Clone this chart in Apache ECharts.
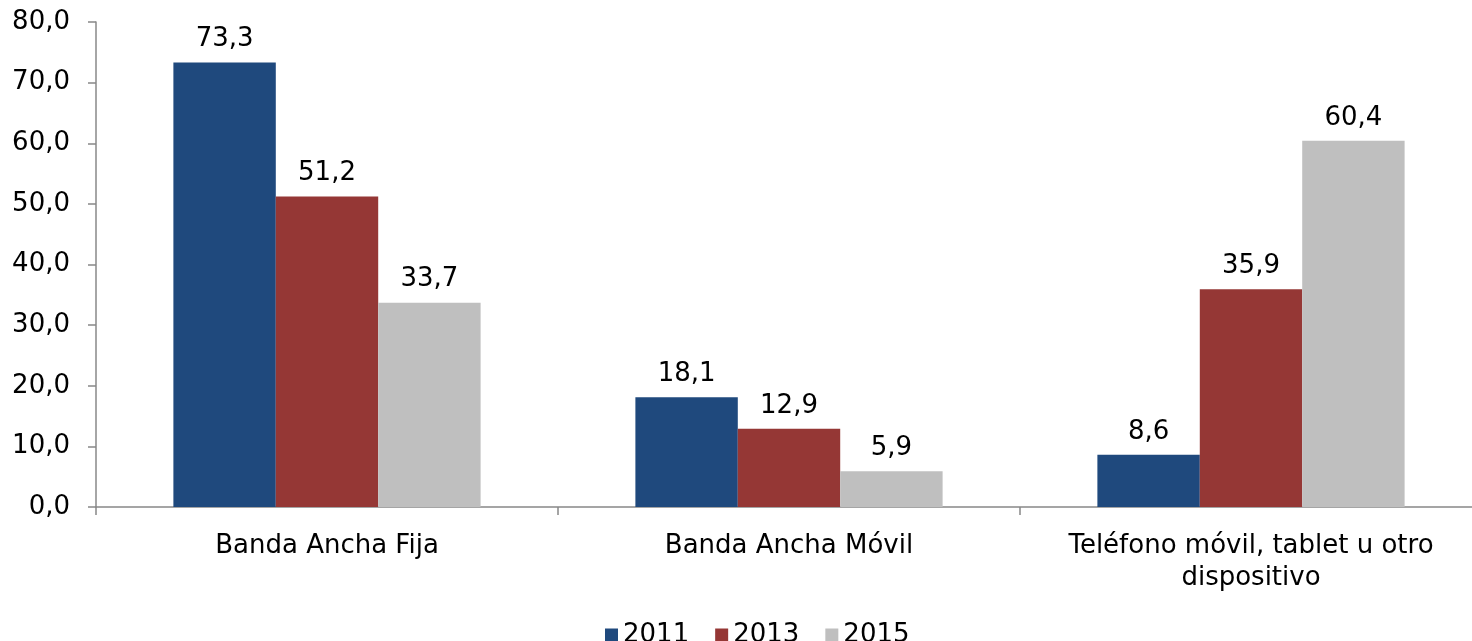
<!DOCTYPE html>
<html>
<head>
<meta charset="utf-8">
<script src="https://cdn.jsdelivr.net/npm/echarts@6/dist/echarts.min.js"></script>
<style>
  html, body { margin: 0; padding: 0; background: #fff; }
  #chart { width: 1472px; height: 641px; }
</style>
</head>
<body>
<div id="chart"></div>
<script>
var categories = ['Banda Ancha Fija', 'Banda Ancha Móvil', 'Teléfono móvil, tablet u otro\ndispositivo'];
var years = ['2011', '2013', '2015'];
var values2011 = [73.3, 18.1, 8.6];
var values2013 = [51.2, 12.9, 35.9];
var values2015 = [33.7, 5.9, 60.4];
var colors = ['#1F497D', '#953735', '#BFBFBF'];

var font = 'DejaVu Sans, Verdana, sans-serif';
var fmt = function (v) { return v.toFixed(1).replace('.', ','); };

var myChart = echarts.init(document.getElementById('chart'));

function makeSeries(name, data, color) {
  return {
    name: name,
    type: 'bar',
    data: data,
    barGap: '0%',
    barCategoryGap: '33.5%',
    itemStyle: { color: color },
    label: {
      show: true,
      position: 'top',
      distance: 10,
      color: '#000',
      fontSize: 26,
      fontFamily: font,
      formatter: function (p) { return fmt(p.value); }
    }
  };
}

var option = {
  animation: false,
  backgroundColor: '#fff',
  // plot area runs a little past the right edge of the picture
  grid: { left: 96, width: 1386, top: 22, bottom: 134, containLabel: false, outerBoundsMode: 'none' },
  legend: {
    data: years,
    top: 617,
    left: 600,
    icon: 'rect',
    itemWidth: 13,
    itemHeight: 13,
    itemGap: 26,
    textStyle: { fontSize: 26, fontFamily: font, color: '#000' }
  },
  xAxis: {
    type: 'category',
    data: categories,
    axisLine: { lineStyle: { color: '#888', width: 1.5 } },
    axisTick: { show: true, length: 8, lineStyle: { color: '#888', width: 1.5 } },
    axisLabel: { color: '#000', fontSize: 26, fontFamily: font, margin: 23, lineHeight: 32, interval: 0 }
  },
  yAxis: {
    type: 'value',
    min: 0,
    max: 80,
    interval: 10,
    splitLine: { show: false },
    axisLine: { show: true, lineStyle: { color: '#888', width: 1.5 } },
    axisTick: { show: true, length: 8, lineStyle: { color: '#888', width: 1.5 } },
    axisLabel: { color: '#000', fontSize: 26, fontFamily: font, margin: 26, formatter: fmt }
  },
  series: [
    makeSeries(years[0], values2011, colors[0]),
    makeSeries(years[1], values2013, colors[1]),
    makeSeries(years[2], values2015, colors[2])
  ]
};

myChart.setOption(option);
</script>
</body>
</html>
